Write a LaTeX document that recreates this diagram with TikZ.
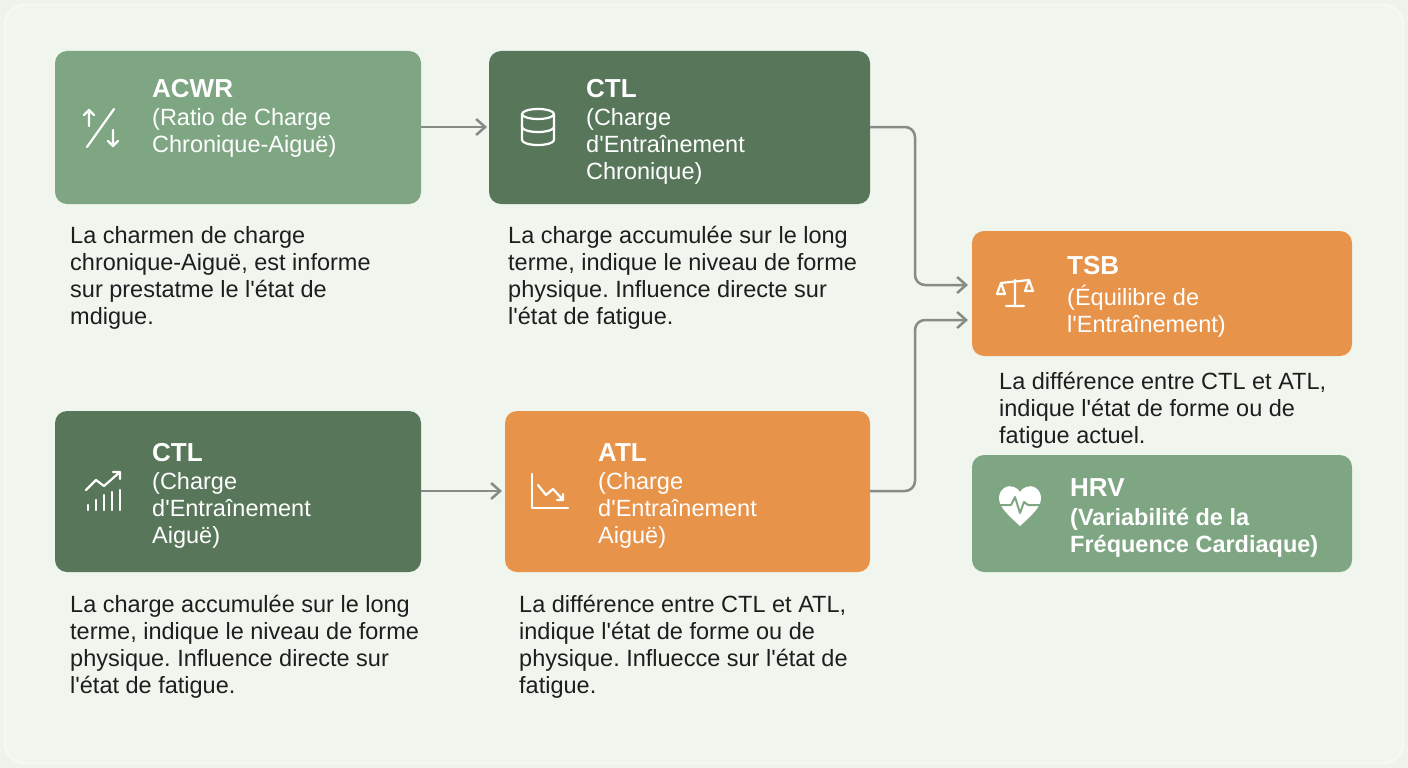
\documentclass[tikz,border=0pt]{standalone}
\usepackage{fontspec}
\setmainfont{Liberation Sans}
\usetikzlibrary{arrows.meta}
\definecolor{bg}{HTML}{EEF4EC}
\definecolor{lg}{HTML}{7FA683}
\definecolor{dg}{HTML}{58775A}
\definecolor{og}{HTML}{E8934A}
\definecolor{ar}{HTML}{868B86}
\definecolor{tx}{HTML}{1E1E1E}
\newcommand{\q}{\textquotesingle}
\begin{document}
\frenchspacing
\begin{tikzpicture}[x=1pt,y=-1pt,
 box/.style={rounded corners=12pt},
 ttl/.style={anchor=north west,inner sep=0,text=white,font=\fontsize{26}{30}\selectfont\bfseries},
 sub/.style={anchor=north west,inner sep=0,text=white,align=left,font=\fontsize{23.5}{27}\selectfont},
 desc/.style={anchor=north west,inner sep=0,text=tx,align=left,font=\fontsize{23.5}{27}\selectfont},
 conn/.style={draw=ar,line width=2.5pt,rounded corners=10pt,-{Straight Barb[length=9pt,width=16pt,line width=2.5pt]}},
 ic/.style={draw=white,line width=2.2pt,line cap=round,line join=round}]
\fill[bg] (0,0) rectangle (1408,768);
\fill[white!40!bg,rounded corners=20pt] (4,4) rectangle (1404,764);
\fill[bg!90!white,rounded corners=20pt] (6,6) rectangle (1402,762);
% boxes
\fill[lg,box] (55,51) rectangle (421,204);
\coordinate (acwrR) at (421,127);
\fill[dg,box] (489,51) rectangle (870,204);
\coordinate (ctlL) at (489,127); \coordinate (ctlR) at (870,127);
\fill[og,box] (972,231) rectangle (1352,356);
\coordinate (tsbA) at (972,285); \coordinate (tsbB) at (972,320);
\fill[dg,box] (55,411) rectangle (421,572);
\coordinate (ctl2R) at (421,491);
\fill[og,box] (505,411) rectangle (870,572);
\coordinate (atlL) at (505,491); \coordinate (atlR) at (870,491);
\fill[lg,box] (972,455) rectangle (1352,572);
% titles
\node[ttl] (t1) at (152,79) {ACWR};
\node[sub] (s1) at (152,108) {(Ratio de Charge\\Chronique-Aiguë)};
\node[ttl] (t2) at (586,79) {CTL};
\node[sub] (s2) at (586,108) {(Charge\\d\q Entraînement\\Chronique)};
\node[ttl] (t3) at (1067,256) {TSB};
\node[sub] (s3) at (1067,285) {(Équilibre de\\l\q Entraînement)};
\node[ttl] (t4) at (152,443) {CTL};
\node[sub] (s4) at (152,472) {(Charge\\d\q Entraînement\\Aiguë)};
\node[ttl] (t5) at (598,443) {ATL};
\node[sub] (s5) at (598,472) {(Charge\\d\q Entraînement\\Aiguë)};
\node[ttl] (t6) at (1070,478) {HRV};
\node[sub,font=\fontsize{23.5}{27}\selectfont\bfseries] (s6) at (1070,508) {(Variabilité de la\\Fréquence Cardiaque)};
% descriptions
\node[desc] (d1) at (70,226) {La charmen de charge\\chronique-Aiguë, est informe\\sur prestatme le l\q état de\\mdigue.};
\node[desc] (d2) at (508,226) {La charge accumulée sur le long\\terme, indique le niveau de forme\\physique. Influence directe sur\\l\q état de fatigue.};
\node[desc] (d3) at (999,372) {La différence entre CTL et ATL,\\indique l\q état de forme ou de\\fatigue actuel.};
\node[desc] (d4) at (70,595) {La charge accumulée sur le long\\terme, indique le niveau de forme\\physique. Influence directe sur\\l\q état de fatigue.};
\node[desc] (d5) at (519,595) {La différence entre CTL et ATL,\\indique l\q état de forme ou de\\physique. Influecce sur l\q état de\\fatigue.};
% connectors
\draw[conn] (acwrR) -- (487,127);
\draw[conn] (ctlR) -- (915,127) -- (915,285) -- (968,285);
\draw[conn] (atlR) -- (915,491) -- (915,320) -- (968,320);
\draw[conn] (ctl2R) -- (502,491);
% icons
\draw[ic] (87,147) -- (114,109);
\draw[ic] (89,126) -- (89,110) (84,115) -- (89,110) -- (94,115);
\draw[ic] (113,130) -- (113,146) (108,141) -- (113,146) -- (118,141);
% cylinder
\draw[ic] (522,114) arc[start angle=180,end angle=0,x radius=16pt,y radius=5pt] arc[start angle=0,end angle=-180,x radius=16pt,y radius=5pt];
\draw[ic] (522,114) -- (522,140) arc[start angle=180,end angle=360,x radius=16pt,y radius=5pt] -- (554,114);
\draw[ic] (522,127) arc[start angle=180,end angle=360,x radius=16pt,y radius=5pt];
% scales
\draw[ic] (1015,280) -- (1015,306) (1006,306) -- (1024,306) (1001,283) -- (1029,280);
\draw[ic] (1001,283) -- (997,294) -- (1005,294) -- cycle (1029,280) -- (1025,291) -- (1033,291) -- cycle;
% chart up
\draw[ic] (86,490) -- (96,480) -- (104,486) -- (120,472) (113,472) -- (120,472) -- (120,479);
\draw[ic] (88,510) -- (88,505) (96,510) -- (96,500) (104,510) -- (104,495) (112,510) -- (112,492) (120,510) -- (120,490);
% chart down
\draw[ic] (532,474) -- (532,508) -- (568,508);
\draw[ic] (538,485) -- (546,495) -- (553,489) -- (563,500) (557,500) -- (563,500) -- (563,494);
% heart
\fill[white] (1020,526) .. controls (1008,515) and (999,507) .. (999,498) .. controls (999,489) and (1008,484) .. (1014,487) .. controls (1017,488) and (1019,490) .. (1020,492) .. controls (1021,490) and (1023,488) .. (1026,487) .. controls (1032,484) and (1041,489) .. (1041,498) .. controls (1041,507) and (1032,515) .. (1020,526) -- cycle;
\draw[lg,line width=2pt,line join=round] (999,505) -- (1011,505) -- (1015,497) -- (1020,513) -- (1024,502) -- (1028,505) -- (1041,505);
\end{tikzpicture}
\end{document}
